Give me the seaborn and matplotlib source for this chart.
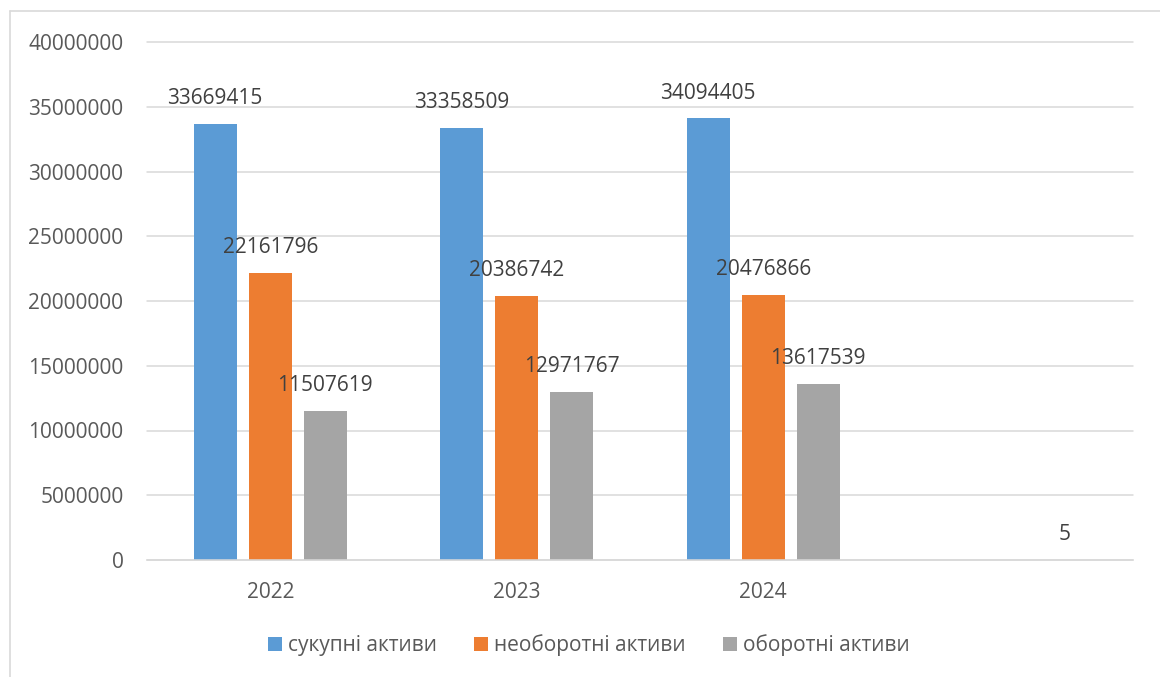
import numpy as np
import pandas as pd
import matplotlib
matplotlib.use("Agg")
import matplotlib.pyplot as plt
from matplotlib.patches import Patch
from matplotlib.lines import Line2D
import seaborn as sns

# Balance-sheet asset totals by year
years = ["2022", "2023", "2024", " "]
series_names = ["сукупні активи", "необоротні активи", "оборотні активи"]
total_assets = [33669415, 33358509, 34094405, np.nan]
noncurrent_assets = [22161796, 20386742, 20476866, np.nan]
current_assets = [11507619, 12971767, 13617539, 5]
y_ticks = [0, 5000000, 10000000, 15000000, 20000000, 25000000, 30000000, 35000000, 40000000]

colors = ["#5B9BD5", "#ED7D31", "#A5A5A5"]

sns.set_theme(style="white")
plt.rcParams["font.family"] = ["Open Sans", "DejaVu Sans"]

rows = []
for name, vals in zip(series_names, [total_assets, noncurrent_assets, current_assets]):
    for yr, v in zip(years, vals):
        rows.append({"year": yr, "series": name, "value": v})
df = pd.DataFrame(rows)

W, H = 1160, 677
fig = plt.figure(figsize=(W / 100, H / 100), dpi=100)
ax = fig.add_axes([147 / W, (H - 560) / H, 986 / W, 518 / H])

sns.barplot(data=df, x="year", y="value", hue="series", order=years,
            hue_order=series_names, palette=colors, saturation=1,
            width=0.67, gap=0.22, errorbar=None, legend=False, ax=ax,
            linewidth=0)

ax.set_xlim(-0.5, len(years) - 0.5)
ax.set_ylim(0, 40000000)
ax.set_yticks(y_ticks)
ax.set_yticklabels([str(t) for t in y_ticks])
ax.set_xlabel("")
ax.set_ylabel("")

grid_color = "#D9D9D9"
ax.yaxis.grid(True, color=grid_color, linewidth=1.1)
ax.set_axisbelow(True)
for side in ["top", "right", "left"]:
    ax.spines[side].set_visible(False)
ax.spines["bottom"].set_color(grid_color)
ax.spines["bottom"].set_linewidth(1.1)
for gl in ax.get_ygridlines():
    gl.set_clip_on(False)

ax.tick_params(axis="y", length=0, pad=17, labelsize=15, labelcolor="#595959")
ax.tick_params(axis="x", length=0, pad=16, labelsize=15, labelcolor="#595959")

# Value labels above each bar
for container in ax.containers:
    for bar in container:
        h = bar.get_height()
        if np.isnan(h):
            continue
        ax.annotate(f"{int(round(h))}",
                    xy=(bar.get_x() + bar.get_width() / 2, h),
                    xytext=(0, 14.2), textcoords="offset points",
                    ha="center", va="baseline", fontsize=15,
                    color="#404040", annotation_clip=False)

handles = [Patch(facecolor=c, edgecolor="none", label=n)
           for c, n in zip(colors, series_names)]
fig.legend(handles=handles, loc="center", ncol=3, frameon=False,
           bbox_to_anchor=(589 / W, (H - 645) / H), fontsize=15,
           handlelength=0.67, handleheight=0.67, handletextpad=0.29,
           columnspacing=1.78, labelcolor="#595959")

# Chart-area frame (top and left edges)
fig.add_artist(Line2D([10 / W, 1.0], [(H - 11) / H, (H - 11) / H],
                      transform=fig.transFigure, color=grid_color, linewidth=1.2))
fig.add_artist(Line2D([10 / W, 10 / W], [0.0, (H - 11) / H],
                      transform=fig.transFigure, color=grid_color, linewidth=1.2))

fig.savefig("out.png", dpi=100, facecolor="white")
